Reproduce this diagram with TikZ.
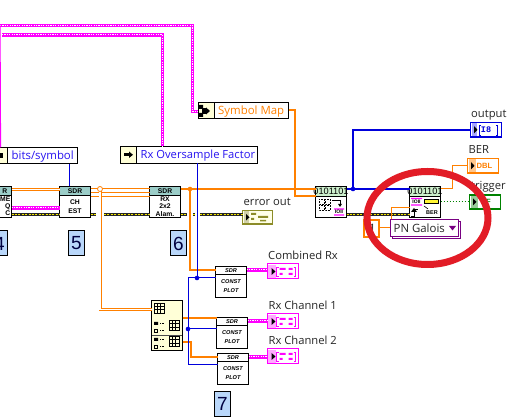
\documentclass[tikz,border=0pt]{standalone}
\usepackage{fontspec}
\setmainfont{Open Sans}
\newfontfamily\arialf{Liberation Sans}
\newfontfamily\monof{Liberation Mono}
\usetikzlibrary{calc}
\definecolor{lvorange}{RGB}{255,128,0}
\definecolor{lvmag}{RGB}{255,0,255}
\definecolor{lvblue}{RGB}{0,0,220}
\definecolor{lvyellow}{RGB}{255,255,215}
\definecolor{hdrteal}{RGB}{155,205,200}
\definecolor{hdrgreen}{RGB}{205,240,205}
\definecolor{numblue}{RGB}{185,215,250}
\definecolor{lvred}{RGB}{226,28,38}
\definecolor{lvgreen}{RGB}{0,130,0}
\definecolor{lvolive}{RGB}{140,140,40}
\definecolor{purp}{RGB}{120,0,130}
\definecolor{textblue}{RGB}{40,20,240}
\definecolor{pink}{RGB}{255,170,255}
\tikzset{
  rectbox/.style={draw=black,line width=1pt,fill=white,rectangle,inner sep=0pt,outer sep=0pt,anchor=north west},
  thickor/.style={draw=lvorange,line width=2.2pt},
  thinor/.style={draw=lvorange,line width=1pt},
  pairor/.style={draw=lvorange,double=white,line width=0.9pt,double distance=1.2pt},
  thinbl/.style={draw=lvblue,line width=1pt},
  thickbl/.style={draw=lvblue,line width=2.4pt},
  greendot/.style={draw=lvgreen,line width=1pt,dotted},
  errbase/.style={draw=black!85,line width=3.2pt},
  errtop/.style={draw=yellow!90!olive,line width=1.5pt,dash pattern=on 2pt off 1.4pt},
  magbase/.style={draw=lvmag,line width=3.6pt},
  magtop/.style={draw=white,line width=1pt,dash pattern=on 1.2pt off 1.2pt},
  jdot/.style={circle,fill=#1,inner sep=0pt,minimum size=4.6pt,outer sep=0pt},
  lab/.style={anchor=base west,inner sep=0pt,font=\fontsize{11.2}{12}\selectfont,text=black!85},
  numbox/.style={rectbox,fill=numblue,font=\arialf\fontsize{19}{19}\selectfont,text=black!75!blue},
  tiny/.style={inner sep=0pt,font=\arialf\bfseries\fontsize{6.8}{7.6}\selectfont,align=center},
  plott/.style={inner sep=0pt,font=\arialf\bfseries\itshape\fontsize{5.6}{6.4}\selectfont,align=center},
}
% rectangle node by its corners
\newcommand\bx[6][]{\node[rectbox,minimum width={(#4)*1pt-(#2)*1pt},minimum height={(#5)*1pt-(#3)*1pt},#1] (#6) at (#2,#3) {};}
% small grid
\newcommand\gridic[3]{\draw[black,line width=0.7pt] (#1,#2) rectangle ++(#3,#3) (#1+#3/3,#2) -- ++(0,#3) (#1+2*#3/3,#2) -- ++(0,#3) (#1,#2+#3/3) -- ++(#3,0) (#1,#2+2*#3/3) -- ++(#3,0);}
% SDR subVI
\newcommand\sdr[7]{% name x1 y1 x2 y2 header label
  \bx{#2}{#3}{#4}{#5}{#1}
  \fill[hdrteal] (#2+.5,#3+.5) rectangle (#4-.5,#3+8.5);
  \draw[black,line width=.8pt] (#2,#3+8.5) -- (#4,#3+8.5);
  \node[tiny] at ({(#2+#4)/2},#3+4.6) {#6};
  \node[tiny] at ({(#2+#4)/2},#3+20) {#7};
}
\newcommand\plotvi[5]{% name x1 y1 x2 y2
  \bx{#2}{#3}{#4}{#5}{#1}
  \draw[black,line width=.8pt] (#2,#3+7.5) -- (#4,#3+7.5);
  \node[plott] at ({(#2+#4)/2},#3+4) {SDR};
  \node[plott] at ({(#2+#4)/2},#3+19.5) {CONST\\[2.6pt]PLOT};
}
% cluster indicator
\newcommand\magind[3]{% name x y
  \bx[draw=lvmag]{#2}{#3}{#2+31}{#3+15}{#1}
  \fill[pink] (#2+.8,#3+.8) rectangle (#2+8,#3+14.2);
  \fill[black] (#2+4,#3+4) -- (#2+8,#3+7.5) -- (#2+4,#3+11) -- cycle;
  \draw[lvmag,line width=.8pt] (#2+11,#3+3) -- (#2+9,#3+3) -- (#2+9,#3+12) -- (#2+11,#3+12);
  \draw[lvmag,line width=.8pt] (#2+26,#3+3) -- (#2+28,#3+3) -- (#2+28,#3+12) -- (#2+26,#3+12);
  \fill[lvmag] (#2+12,#3+4) rectangle ++(6,2) (#2+21,#3+4) rectangle ++(4,2) (#2+12,#3+9) rectangle ++(3,2) (#2+21,#3+9) rectangle ++(4,2);
}
\begin{document}
\begin{tikzpicture}[x=1pt,y=-1pt]
\useasboundingbox (0,0) rectangle (507,419);
\clip (0,0) rectangle (507,419);
\fill[white] (0,0) rectangle (507,419);
% ---------- property nodes
\bx{198}{102.5}{288.5}{119}{symmap}
\fill[lvyellow] (198.5,103) rectangle (214,118.5);
\draw[black,line width=1pt] (214,102.5) -- (214,119);
\fill[black] (199,105) rectangle (203,109) (199,113) rectangle (203,117);
\fill[black] (202,108) rectangle (206,114);
\fill[black] (206,107.5) -- (210,111) -- (206,114.5) -- cycle;
\node[anchor=base west,inner sep=0pt,text=lvorange,font=\fontsize{11.4}{12}\selectfont] (symtxt) at (218,115) {Symbol Map};
\bx{-9}{147.5}{77.5}{164}{bits}
\fill[lvyellow] (-8,148) rectangle (7,163.5);
\draw[black,line width=1pt] (7,147.5) -- (7,164);
\fill[black] (0,153) rectangle (3,158);
\node[anchor=base west,inner sep=0pt,text=textblue,font=\fontsize{11.4}{12}\selectfont] (bitstxt) at (11.5,160) {bits/symbol};
\bx{120.5}{146.5}{257.5}{163.5}{rxo}
\fill[lvyellow] (121,147) rectangle (136,163);
\draw[black,line width=1pt] (136.5,146.5) -- (136.5,163.5);
\fill[black] (124,153) rectangle (129,156.5);
\fill[black] (129,151.5) -- (133,154.8) -- (129,158) -- cycle;
\node[anchor=base west,inner sep=0pt,text=textblue,font=\fontsize{11.2}{12}\selectfont] (rxotxt) at (140.5,159) {Rx Oversample Factor};
% ---------- SDR blocks
\sdr{sd4}{-20}{186.5}{11.5}{217.5}{}{}
\node[tiny,anchor=east] at (7.5,191) {R};
\node[tiny,anchor=east] at (10.5,199.5) {ME};
\node[tiny,anchor=east] at (10.5,206.5) {Q};
\node[tiny,anchor=east] at (10.5,213.5) {C};
\sdr{chest}{59.5}{186.5}{90.5}{217.5}{SDR}{CH\\[1.5pt]EST}
\sdr{rxal}{149.5}{186.5}{180.5}{217.5}{SDR}{RX\\2x2\\Alam.}
% ---------- numbers
\node[numbox,minimum width=16pt,minimum height=25pt] (n4) at (-8.5,231) {4};
\node[numbox,minimum width=16pt,minimum height=25pt] (n5) at (68.5,231) {5};
\node[numbox,minimum width=16pt,minimum height=25pt] (n6) at (170.5,231) {6};
\node[numbox,minimum width=16pt,minimum height=25pt] (n7) at (214.5,391.5) {7};
% ---------- plot blocks
\plotvi{pl1}{215.5}{266.5}{246.5}{297.5}
\plotvi{pl2}{216.5}{317.5}{247.5}{348.5}
\plotvi{pl3}{217.5}{353.5}{248.5}{384.5}
% ---------- bundle
\bx[fill=lvyellow]{151.5}{300.5}{182.5}{350.5}{unb}
\draw[black!70,line width=.6pt] (152,335) -- (182,335);
\gridic{154}{303}{10}
\gridic{169}{320.5}{10}
\gridic{169}{336.5}{10}
\fill[black] (154,322) rectangle ++(4,3) (154,338) rectangle ++(4,3);
\draw[black,line width=.6pt] (154.5,329.5) rectangle ++(3,2.5) (154.5,345.5) rectangle ++(3,2.5);
\draw[black,line width=.6pt,densely dotted] (160,323.5) -- (164,323.5) (160,330.5) -- (164,330.5) (160,339.5) -- (164,339.5) (160,346.5) -- (164,346.5);
% ---------- coding blocks
\bx{315.5}{186.5}{346.5}{217.5}{coda}
\fill[hdrgreen] (316,187) rectangle (346,196.5);
\draw[black,line width=.8pt] (315.5,196.5) -- (346.5,196.5);
\node[inner sep=0pt,font=\arialf\fontsize{9.2}{9}\selectfont] at (331,191.8) {0101101};
\draw[black,line width=.5pt,densely dotted] (319,199.5) rectangle ++(5,5) (319,205.5) rectangle ++(5,5) (325,199.5) rectangle ++(5,5) (325,205.5) rectangle ++(5,5);
\draw[black,line width=.7pt] (332,200) -- (340,200) -- (340,205);
\fill[black] (338,204) -- (342,204) -- (340,207) -- cycle;
\fill[lvmag] (334,208.5) rectangle ++(10,1.2) (334,214.5) rectangle ++(10,1.2);
\node[inner sep=0pt,font=\arialf\bfseries\fontsize{5}{5}\selectfont] at (339,212.2) {IOII};
\bx{409.5}{186.5}{440.5}{217.5}{codb}
\fill[hdrgreen] (410,187) rectangle (440,196.5);
\draw[black,line width=.8pt] (409.5,196.5) -- (440.5,196.5);
\node[inner sep=0pt,font=\arialf\fontsize{9.2}{9}\selectfont] at (425,191.8) {0101101};
\fill[lvmag] (411,198) rectangle ++(11,1.2) (411,204.5) rectangle ++(11,1.2);
\node[inner sep=0pt,font=\arialf\bfseries\fontsize{5}{5}\selectfont] at (416.5,202) {IOII};
\fill[yellow!80!white] (424,200) rectangle (438.5,203.5);
\draw[black,line width=.7pt] (424,199.5) rectangle (438.5,203.5);
\draw[black,line width=.7pt] (411,216) -- (414,216) -- (414,209) -- (418,209);
\fill[black] (411,212) -- (414,208) -- (417,212) -- cycle;
\draw[black,line width=.6pt] (424,206) -- (428,209);
\node[inner sep=0pt,font=\arialf\bfseries\fontsize{5.5}{5.5}\selectfont] at (432,213) {BER};
% ---------- control and constant
\draw[purp,line width=1pt,fill=white] (392.5,222) rectangle (460,239);
\bx[draw=purp]{390}{219.5}{458}{237}{pn}
\node[anchor=base west,inner sep=0pt,font=\fontsize{11.4}{12}\selectfont,text=black!85] (pntxt) at (393.5,233) {PN Galois};
\fill[purp] (449,226) -- (456,226) -- (452.5,230.5) -- cycle;
\bx[draw=lvorange,line width=2pt]{363.5}{220}{379}{237}{const}
\node[anchor=base east,inner sep=0pt,font=\fontsize{11.6}{12}\selectfont,text=black!85] at (376,233) {1};
% ---------- indicators
\magind{ind1}{267.5}{264}
\magind{ind2}{267.5}{314}
\magind{ind3}{267.5}{349}
\bx[draw=lvolive,line width=1.2pt,fill=lvyellow!60!white]{242.5}{210.5}{272.5}{224}{errout}
\fill[lvolive!40] (243.5,211.5) rectangle (249,223);
\fill[black] (246,214) -- (249.5,217.3) -- (246,220.5) -- cycle;
\fill[lvolive] (251,213) rectangle ++(5,2) (251,218) rectangle ++(3,2) (258,216) rectangle ++(10,2) (260,220) rectangle ++(6,1.4);
\bx[draw=lvblue,line width=1.3pt]{470.5}{122.5}{501.5}{137}{outp}
\fill[blue!35] (471.5,123.5) rectangle (477,136);
\fill[black] (474,126) -- (477.5,129.8) -- (474,133.5) -- cycle;
\node[inner sep=0pt,text=lvblue,font=\monof\bfseries\fontsize{8.5}{8.5}\selectfont] (i8) at (486,130) {I8};
\draw[lvblue,line width=.7pt] (481,125) -- (479.5,125) -- (479.5,135) -- (481,135) (496,125) -- (497.5,125) -- (497.5,135) -- (496,135);
\bx[draw=lvorange,line width=1.3pt]{467.5}{158.5}{498.5}{173}{berind}
\fill[lvorange!45] (468.5,159.5) rectangle (476,172);
\fill[black] (471,162) -- (474.5,165.8) -- (471,169.5) -- cycle;
\node[inner sep=0pt,text=lvorange,font=\arialf\bfseries\fontsize{7.6}{8}\selectfont] (dbl) at (484.5,166) {DBL};
\bx[draw=lvgreen,line width=1.3pt]{469.5}{195}{500.5}{209}{trg}
\fill[lvgreen!40] (470.5,196) rectangle (478,208);
\fill[black] (473,198.5) -- (476.5,202) -- (473,205.5) -- cycle;
\node[inner sep=0pt,text=lvgreen,font=\arialf\bfseries\fontsize{7.6}{8}\selectfont] (tf) at (486,202) {TF};
% ---------- labels
\node[lab] (l1) at (268,260) {Combined Rx};
\node[lab] (l2) at (268.5,310) {Rx Channel 1};
\node[lab] (l3) at (268.5,345) {Rx Channel 2};
\node[lab] (l4) at (243.5,206) {error out};
\node[lab] (l5) at (471,118) {output};
\node[lab] (l6) at (468.5,154) {BER};
\node[lab] (l7) at (471,190) {trigger};
% ---------- named free ends
\coordinate (topL) at (0,25.5);
\coordinate (topM) at (2,35);
\coordinate (leftbot) at (0.5,147.5);
\coordinate (j1) at (100,189);
\coordinate (j2) at (190,189);
\coordinate (j3) at (197,278);
\coordinate (j4) at (188,329);
\coordinate (j5) at (353,189);
% ---------- magenta wires
\foreach \s in {magbase,magtop}{
  \draw[\s] (topL) -- (192.5,25.5) -- (192.5,111.5) -- (symmap.west |- 0,111.5);
  \draw[\s] (topM) -- (162.5,35) -- (rxo.north -| 162.5,0);
  \draw[\s] (sd4.east |- 0,208) -- (chest.west |- 0,208);
}
\draw[lvmag,line width=1.2pt] (topL) -- (leftbot);
% ---------- error wires
\foreach \s in {errbase,errtop}{
  \draw[\s] (sd4.east |- 0,214.5) -- (chest.west |- 0,214.5);
  \draw[\s] (chest.east |- 0,214.5) -- (96,214.5);
  \draw[\s] (104,214.5) -- (rxal.west |- 0,214.5);
  \draw[\s] (rxal.east |- 0,214.5) -- (187,214.5);
  \draw[\s] (193,214.5) -- (194.5,214.5);
  \draw[\s] (200,214.5) -- (errout.west |- 0,214.5);
  \draw[\s] (coda.east |- 0,214.5) -- (codb.west |- 0,214.5);
}
% ---------- orange wires
\draw[pairor] (sd4.east |- 0,189.5) -- (chest.west |- 0,189.5);
\draw[thinor] (chest.east |- 0,188.5) -- (rxal.west |- 0,188.5);
\draw[thinor] (chest.east |- 0,192.5) -- (rxal.west |- 0,192.5);
\draw[thinor] (chest.east |- 0,197) -- (rxal.west |- 0,197);
\draw[pairor] (j1) -- (100,309.5) -- (unb.west |- 0,309.5);
\node[circle,draw=lvorange,fill=white,line width=.8pt,inner sep=0pt,minimum size=5pt] (j1n) at (j1) {};
\draw[thickor] (rxal.east |- j2) -- (coda.west |- j2);
\draw[thickor] (j2) -- (190,270) -- (pl1.west |- 0,270);
\node[jdot=lvorange] (j2n) at (j2) {};
\draw[thickor] (unb.east |- 0,318) -- (pl2.west |- 0,318);
\draw[thickor] (unb.east |- 0,342) -- (191,342) -- (191,357) -- (pl3.west |- 0,357);
\draw[thickor] (symmap.east |- 0,110) -- (295,110) -- (295,196) -- (coda.west |- 0,196);
\draw[thinor] (const.east |- 0,228) -- (pn.west |- 0,228);
\draw[thinor] (pn.north -| 391.5,0) -- (391.5,208) -- (codb.west |- 0,208);
\draw[thinor] (codb.east |- 0,189) -- (452.5,189) -- (452.5,166) -- (berind.west |- 0,166);
% ---------- blue wires
\draw[thinbl] (bits.south -| 69.5,0) -- (chest.north -| 69.5,0);
\draw[thinbl] (rxo.south -| 197,0) -- (j3);
\draw[thinbl] (pl1.west |- j3) -- (188,278) -- (188,365) -- (pl3.west |- 0,365);
\draw[thinbl] (j4) -- (pl2.west |- j4);
\node[jdot=lvblue] (j3n) at (j3) {};
\node[jdot=lvblue] (j4n) at (j4) {};
\draw[thickbl] (coda.east |- j5) -- (codb.west |- j5);
\draw[thickbl] (j5) -- (353,130) -- (outp.west |- 0,130);
\node[jdot=lvblue] (j5n) at (j5) {};
% ---------- dotted outputs
\foreach \s in {magbase,magtop}{
  \draw[\s] (pl1.east |- 0,270) -- (ind1.west |- 0,270);
  \draw[\s] (pl2.east |- 0,321) -- (ind2.west |- 0,321);
  \draw[\s] (pl3.east |- 0,357) -- (ind3.west |- 0,357);
}
\draw[greendot] (codb.east |- 0,202) -- (trg.west |- 0,202);
% ---------- red ellipse
\draw[lvred,line width=7pt] (427.5,218) ellipse [x radius=60.5,y radius=46.5];
\end{tikzpicture}
\end{document}
